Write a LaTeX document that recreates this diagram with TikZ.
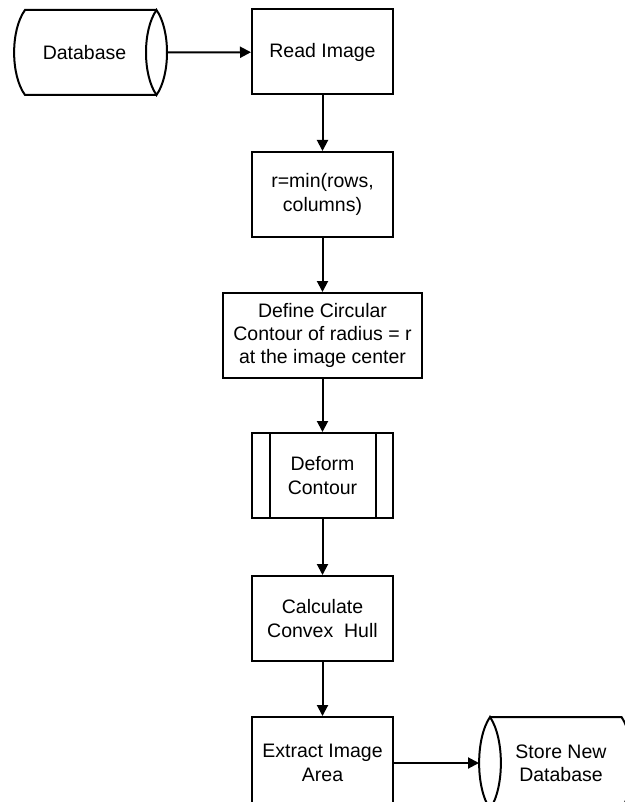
\documentclass[tikz,border=0pt]{standalone}
\usepackage{fontspec}
\setmainfont{Liberation Sans}
\usetikzlibrary{arrows.meta}
\tikzset{
	proc/.style={draw, line width=2pt, minimum width=141pt, minimum height=85pt, inner sep=0pt, align=center},
	flow/.style={line width=2pt, -{Triangle[length=11pt,width=11pt]}},
	dbline/.style={line width=2pt}
}

\begin{document}
\begin{tikzpicture}[x=1pt, y=-1pt, font=\fontsize{19.5}{23.3}\selectfont]
			%%%%% START %%%%%
			\useasboundingbox (0, 0) rectangle (624, 802);
			
			% source database
			\draw[dbline] (156.5, 10) -- (25, 10) .. controls (10.5, 30) and (10.5, 75) .. (25, 95) -- (156.5, 95);
			\draw[dbline] (156.5, 10) .. controls (142.5, 30) and (142.5, 75) .. (156.5, 95) .. controls (170.5, 75) and (170.5, 30) .. cycle;
			\node (db) at (84.5, 52.5) {Database};
			\coordinate (dbout) at (167, 52.5);
			
			% process column
			\node[proc] (read) at (322.5, 52) {Read Image};
			\node[proc] (rmin) at (322.5, 194.5) {r=min(rows,\\columns)};
			\node[proc, minimum width=199pt] (define) at (322.5, 335.5) {Define Circular\\Contour of radius = r\\at the image center};
			\node[proc] (deform) at (322.5, 475.5) {Deform\\Contour};
			\draw[dbline] ([xshift=19pt]deform.north west) -- ([xshift=19pt]deform.south west);
			\draw[dbline] ([xshift=-18pt]deform.north east) -- ([xshift=-18pt]deform.south east);
			\node[proc] (hull) at (322.5, 618.5) {Calculate\\Convex~ Hull};
			\node[proc, minimum height=92pt] (extract) at (322.5, 763) {Extract Image\\Area};
			
			% target database
			\draw[dbline] (490, 717) -- (621.5, 717) .. controls (636, 738.5) and (636, 787.5) .. (621.5, 809) -- (490, 809);
			\draw[dbline] (490, 717) .. controls (475.5, 738.5) and (475.5, 787.5) .. (490, 809) .. controls (504.5, 787.5) and (504.5, 738.5) .. cycle;
			\node[align=center] (store) at (561, 763) {Store New\\Database};
			\coordinate (storein) at (479, 763);
			
			% connectors
			\draw[flow] (dbout) -- (read);
			\draw[flow] (read) -- (rmin);
			\draw[flow] (rmin) -- (define);
			\draw[flow] (define) -- (deform);
			\draw[flow] (deform) -- (hull);
			\draw[flow] (hull) -- (extract);
			\draw[flow] (extract.east |- storein) -- (storein);
			%%%%% END %%%%%
\end{tikzpicture}
\end{document}
